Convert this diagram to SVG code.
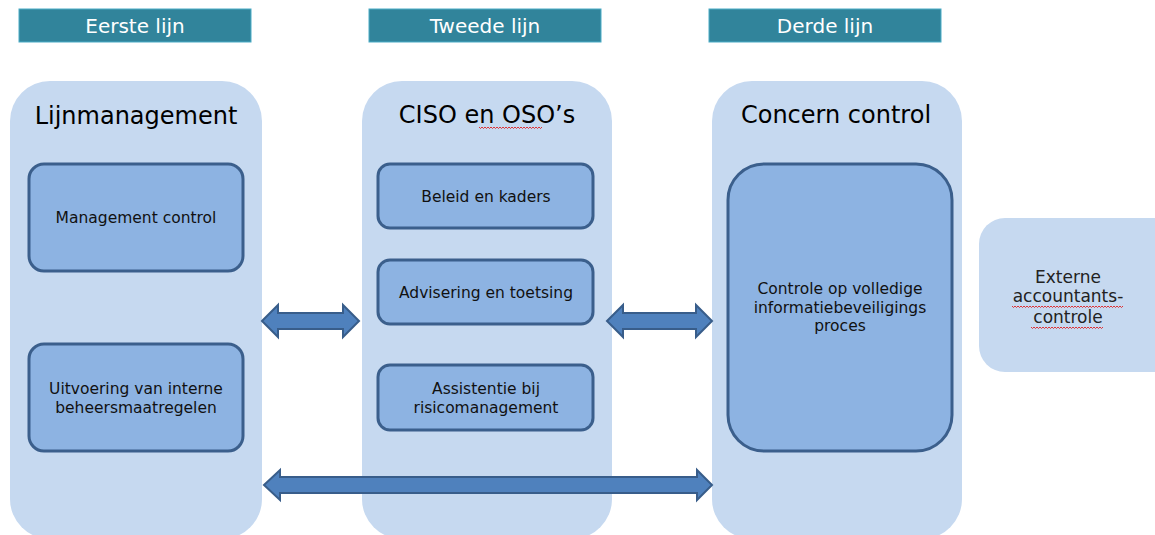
<svg xmlns="http://www.w3.org/2000/svg" width="1155" height="535" viewBox="0 0 1155 535">
<style>
.hdr{fill:#31849b;stroke:#4bacc6;stroke-width:1}
.hdrt{font-family:"DejaVu Sans",Verdana,sans-serif;font-size:20px;fill:#ffffff;text-anchor:middle}
.col{fill:#c6d9f0}
.title{font-family:"DejaVu Sans",Verdana,sans-serif;font-size:24px;fill:#000;text-anchor:middle}
.box{fill:#8db3e2;stroke:#3b5f8c;stroke-width:3}
.bt{font-family:"DejaVu Sans",Verdana,sans-serif;font-size:15.5px;fill:#111;text-anchor:middle}
.ext{font-family:"DejaVu Sans",Verdana,sans-serif;font-size:17px;fill:#222;text-anchor:middle}
.arr{fill:#4f81bd;stroke:#385d8a;stroke-width:2;stroke-linejoin:miter}
.wavy{fill:none;stroke:#e02020;stroke-width:0.9}
</style>
<g id="header-eerste"><rect class="hdr" x="19" y="9" width="232" height="33"/><text class="hdrt" x="135" y="33">Eerste lijn</text></g>
<g id="header-tweede"><rect class="hdr" x="369" y="9" width="232" height="33"/><text class="hdrt" x="485" y="33">Tweede lijn</text></g>
<g id="header-derde"><rect class="hdr" x="709" y="9" width="232" height="33"/><text class="hdrt" x="825" y="33">Derde lijn</text></g>

<g id="lijnmanagement"><rect class="col" x="10" y="81" width="252" height="458" rx="40"/><text class="title" x="136" y="124">Lijnmanagement</text></g>
<g id="ciso"><rect class="col" x="362" y="81" width="250" height="458" rx="40"/><text class="title" x="487" y="123">CISO en OSO’s</text>
<path class="wavy" d="M479,127 l1.5,1.5 l1.5,-1.5 l1.5,1.5 l1.5,-1.5 l1.5,1.5 l1.5,-1.5 l1.5,1.5 l1.5,-1.5 l1.5,1.5 l1.5,-1.5 l1.5,1.5 l1.5,-1.5 l1.5,1.5 l1.5,-1.5 l1.5,1.5 l1.5,-1.5 l1.5,1.5 l1.5,-1.5 l1.5,1.5 l1.5,-1.5 l1.5,1.5 l1.5,-1.5 l1.5,1.5 l1.5,-1.5 l1.5,1.5 l1.5,-1.5 l1.5,1.5 l1.5,-1.5 l1.5,1.5 l1.5,-1.5 l1.5,1.5 l1.5,-1.5 l1.5,1.5 l1.5,-1.5 l1.5,1.5 l1.5,-1.5 l1.5,1.5 l1.5,-1.5 l1.5,1.5 l1.5,-1.5 l1.5,1.5 l1.5,-1.5"/></g>
<g id="concern"><rect class="col" x="712" y="81" width="250" height="458" rx="40"/><text class="title" x="836" y="123">Concern control</text></g>

<g id="management-control"><rect class="box" x="29" y="164" width="214" height="107" rx="15"/><text class="bt" x="136" y="223">Management control</text></g>
<g id="uitvoering"><rect class="box" x="29" y="344" width="214" height="107" rx="15"/><text class="bt" x="136" y="394">Uitvoering van interne</text><text class="bt" x="136" y="413">beheersmaatregelen</text></g>
<g id="beleid"><rect class="box" x="378" y="164" width="215" height="64" rx="12"/><text class="bt" x="486" y="202">Beleid en kaders</text></g>
<g id="advisering"><rect class="box" x="378" y="260" width="215" height="64" rx="12"/><text class="bt" x="486" y="298">Advisering en toetsing</text></g>
<g id="assistentie"><rect class="box" x="378" y="365" width="215" height="65" rx="12"/><text class="bt" x="486" y="394">Assistentie bij</text><text class="bt" x="486" y="413">risicomanagement</text></g>
<g id="controle"><rect class="box" x="728" y="164" width="224" height="287" rx="36"/><text class="bt" x="840" y="294">Controle op volledige</text><text class="bt" x="840" y="313">informatiebeveiligings</text><text class="bt" x="840" y="331">proces</text></g>
<g id="externe"><rect class="col" x="979" y="218" width="200" height="154" rx="26"/><text class="ext" x="1068" y="283">Externe</text><text class="ext" x="1068" y="302">accountants-</text><text class="ext" x="1068" y="323">controle</text>
<path class="wavy" d="M1012,306 l1.5,1.5 l1.5,-1.5 l1.5,1.5 l1.5,-1.5 l1.5,1.5 l1.5,-1.5 l1.5,1.5 l1.5,-1.5 l1.5,1.5 l1.5,-1.5 l1.5,1.5 l1.5,-1.5 l1.5,1.5 l1.5,-1.5 l1.5,1.5 l1.5,-1.5 l1.5,1.5 l1.5,-1.5 l1.5,1.5 l1.5,-1.5 l1.5,1.5 l1.5,-1.5 l1.5,1.5 l1.5,-1.5 l1.5,1.5 l1.5,-1.5 l1.5,1.5 l1.5,-1.5 l1.5,1.5 l1.5,-1.5 l1.5,1.5 l1.5,-1.5 l1.5,1.5 l1.5,-1.5 l1.5,1.5 l1.5,-1.5 l1.5,1.5 l1.5,-1.5 l1.5,1.5 l1.5,-1.5 l1.5,1.5 l1.5,-1.5 l1.5,1.5 l1.5,-1.5 l1.5,1.5 l1.5,-1.5 l1.5,1.5 l1.5,-1.5 l1.5,1.5 l1.5,-1.5 l1.5,1.5 l1.5,-1.5 l1.5,1.5 l1.5,-1.5 l1.5,1.5 l1.5,-1.5 l1.5,1.5 l1.5,-1.5 l1.5,1.5 l1.5,-1.5 l1.5,1.5 l1.5,-1.5 l1.5,1.5 l1.5,-1.5 l1.5,1.5 l1.5,-1.5 l1.5,1.5 l1.5,-1.5 l1.5,1.5 l1.5,-1.5 l1.5,1.5 l1.5,-1.5 l1.5,1.5 l1.5,-1.5"/>
<path class="wavy" d="M1031,327 l1.5,1.5 l1.5,-1.5 l1.5,1.5 l1.5,-1.5 l1.5,1.5 l1.5,-1.5 l1.5,1.5 l1.5,-1.5 l1.5,1.5 l1.5,-1.5 l1.5,1.5 l1.5,-1.5 l1.5,1.5 l1.5,-1.5 l1.5,1.5 l1.5,-1.5 l1.5,1.5 l1.5,-1.5 l1.5,1.5 l1.5,-1.5 l1.5,1.5 l1.5,-1.5 l1.5,1.5 l1.5,-1.5 l1.5,1.5 l1.5,-1.5 l1.5,1.5 l1.5,-1.5 l1.5,1.5 l1.5,-1.5 l1.5,1.5 l1.5,-1.5 l1.5,1.5 l1.5,-1.5 l1.5,1.5 l1.5,-1.5 l1.5,1.5 l1.5,-1.5 l1.5,1.5 l1.5,-1.5 l1.5,1.5 l1.5,-1.5 l1.5,1.5 l1.5,-1.5 l1.5,1.5 l1.5,-1.5 l1.5,1.5 l1.5,-1.5"/></g>

<g id="connectors">
<path class="arr" d="M262,321 L278,305 L278,313 L343,313 L343,305 L359,321 L343,337 L343,329 L278,329 L278,337 Z"/>
<path class="arr" d="M607,321 L623,305 L623,313 L696,313 L696,305 L712,321 L696,337 L696,329 L623,329 L623,337 Z"/>
<path class="arr" d="M264,485 L280,470 L280,477 L697,477 L697,470 L712,485 L697,500 L697,493 L280,493 L280,500 Z"/>
</g>
</svg>
